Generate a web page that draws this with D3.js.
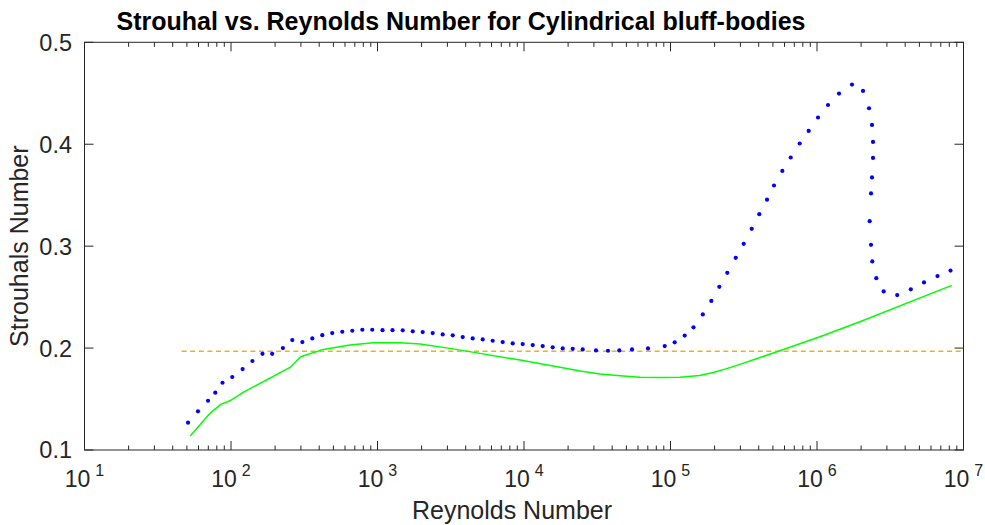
<!DOCTYPE html>
<html>
<head>
<meta charset="utf-8">
<script src="https://cdn.jsdelivr.net/npm/d3@7"></script>
<style>
  html, body { margin: 0; padding: 0; background: #fff; }
  svg { display: block; font-family: "Liberation Sans", Arial, Helvetica, sans-serif; }
</style>
</head>
<body>
<div id="chart"></div>
<script>
// Measured curve (blue dots) - Reynolds number and Strouhal number
const measuredRe = [
  50.9, 59.5, 69.7, 78.1, 87.5, 102, 120, 140, 164, 191,
  226, 262, 307, 359, 420, 491, 575, 673, 788, 921,
  1082, 1266, 1486, 1740, 2035, 2381, 2786, 3262, 3816, 4465,
  5225, 6113, 7154, 8373, 9797, 11470, 13415, 15700, 18375, 21500,
  25160, 31010, 37450, 44720, 54600, 70220, 91300, 106800, 125000, 143500,
  166200, 189900, 215400, 244200, 278700, 316000, 358400, 403800, 455700, 508800,
  579900, 661500, 761900, 877700, 1.016e6, 1.189e6, 1.413e6, 1.733e6, 2.061e6, 2.265e6,
  2.374e6, 2.412e6, 2.412e6, 2.374e6, 2.337e6, 2.289e6, 2.337e6, 2.385e6, 2.54e6, 2.853e6,
  3.528e6, 4.369e6, 5.375e6, 6.645e6, 8.153e6
];
const measuredSt = [
  0.1268, 0.1379, 0.1483, 0.1562, 0.1660, 0.1716, 0.1794, 0.1873, 0.1944, 0.1944,
  0.2000, 0.2078, 0.2059, 0.2095, 0.2127, 0.2147, 0.2160, 0.2170, 0.2180, 0.2180,
  0.2176, 0.2176, 0.2174, 0.2164, 0.2157, 0.2147, 0.2134, 0.2125, 0.2108, 0.2095,
  0.2085, 0.2072, 0.2059, 0.2046, 0.2039, 0.2029, 0.2020, 0.2007, 0.1997, 0.1993,
  0.1987, 0.1977, 0.1974, 0.1977, 0.1987, 0.1997, 0.2020, 0.2056, 0.2123, 0.2204,
  0.2330, 0.2463, 0.2601, 0.2738, 0.2885, 0.3023, 0.3170, 0.3314, 0.3456, 0.3595,
  0.3738, 0.3870, 0.4007, 0.4130, 0.4262, 0.4385, 0.4497, 0.4585, 0.4523, 0.4353,
  0.4189, 0.4023, 0.3866, 0.3674, 0.3517, 0.3245, 0.3013, 0.2850, 0.2686, 0.2556,
  0.2520, 0.2576, 0.2644, 0.2706, 0.2760
];

// Fitted curve (green line)
const fitRe = [
  52.7, 71.9, 85.1, 98.4, 121, 253, 299, 427, 649, 935,
  1426, 1950, 3126, 5012, 9397, 17620, 24100, 33040, 45190, 61940,
  84720, 116100, 157800, 195900, 238700, 297800, 408300, 558500, 1.047e6, 1.963e6,
  8.318e6
];
const fitSt = [
  0.1137, 0.1360, 0.1448, 0.1483, 0.1566, 0.1810, 0.1915, 0.1987, 0.2030, 0.2052,
  0.2052, 0.2039, 0.1997, 0.1948, 0.1882, 0.1811, 0.1775, 0.1745, 0.1728, 0.1713,
  0.1712, 0.1713, 0.1730, 0.1760, 0.1796, 0.1840, 0.1907, 0.1973, 0.2111, 0.2258,
  0.2615
];

// Constant reference Strouhal number (orange dashed)
const refRe = [46, 1e7];
const refSt = [0.197, 0.197];

// Axis ticks
const xDecades = [1, 2, 3, 4, 5, 6, 7];
const yTicks = [0.1, 0.2, 0.3, 0.4, 0.5];

const width = 985, height = 525;
const margin = { top: 42.3, right: 21.5, bottom: 75, left: 84.5 };
const innerW = width - margin.left - margin.right;
const innerH = height - margin.top - margin.bottom;
const axisColor = '#262626';

const svg = d3.select('#chart').append('svg')
  .attr('width', width)
  .attr('height', height);

const x = d3.scaleLog().domain([1e1, 1e7]).range([0, innerW]);
const y = d3.scaleLinear().domain([0.1, 0.5]).range([innerH, 0]);

const g = svg.append('g').attr('transform', `translate(${margin.left},${margin.top})`);

// Minor ticks: 2..9 in every decade
const minorTicks = [];
xDecades.slice(0, -1).forEach(p => {
  for (let k = 2; k <= 9; k++) minorTicks.push(k * Math.pow(10, p));
});
const majorTicks = xDecades.map(p => Math.pow(10, p));

// Ticks drawn inside the box, mirrored on top/right like MATLAB
const ticks = g.append('g').attr('stroke', axisColor).attr('stroke-width', 1);
minorTicks.forEach(v => {
  ticks.append('line').attr('x1', x(v)).attr('x2', x(v)).attr('y1', innerH).attr('y2', innerH - 4.5);
  ticks.append('line').attr('x1', x(v)).attr('x2', x(v)).attr('y1', 0).attr('y2', 4.5);
});
majorTicks.forEach(v => {
  ticks.append('line').attr('x1', x(v)).attr('x2', x(v)).attr('y1', innerH).attr('y2', innerH - 9);
  ticks.append('line').attr('x1', x(v)).attr('x2', x(v)).attr('y1', 0).attr('y2', 9);
});
yTicks.forEach(v => {
  ticks.append('line').attr('x1', 0).attr('x2', 9).attr('y1', y(v)).attr('y2', y(v));
  ticks.append('line').attr('x1', innerW).attr('x2', innerW - 9).attr('y1', y(v)).attr('y2', y(v));
});

// Box
g.append('rect')
  .attr('x', 0).attr('y', 0)
  .attr('width', innerW).attr('height', innerH)
  .attr('fill', 'none')
  .attr('stroke', axisColor)
  .attr('stroke-width', 1);

// Y tick labels
g.append('g').selectAll('text')
  .data(yTicks)
  .join('text')
  .attr('x', -12.5)
  .attr('y', d => y(d))
  .attr('dy', '0.36em')
  .attr('text-anchor', 'end')
  .attr('font-size', 23.5)
  .attr('fill', axisColor)
  .text(d => d.toFixed(1));

// X tick labels as 10^n
const xLabels = g.append('g').selectAll('text')
  .data(xDecades)
  .join('text')
  .attr('x', d => x(Math.pow(10, d)))
  .attr('y', innerH + 37.5)
  .attr('text-anchor', 'middle')
  .attr('font-size', 23)
  .attr('fill', axisColor);
xLabels.append('tspan').text('10');
xLabels.append('tspan')
  .attr('dx', 5)
  .attr('dy', -11)
  .attr('font-size', 16)
  .text(d => d);

// Lines
const line = d3.line().x(d => x(d[0])).y(d => y(d[1]));

g.append('path')
  .datum(d3.zip(refRe, refSt))
  .attr('d', line)
  .attr('fill', 'none')
  .attr('stroke', '#EDB120')
  .attr('stroke-width', 1.5)
  .attr('stroke-dasharray', '5,3.6');

g.append('path')
  .datum(d3.zip(fitRe, fitSt))
  .attr('d', line)
  .attr('fill', 'none')
  .attr('stroke', '#00ff00')
  .attr('stroke-width', 1.5)
  .attr('stroke-linejoin', 'round');

g.append('g').selectAll('circle')
  .data(d3.zip(measuredRe, measuredSt))
  .join('circle')
  .attr('cx', d => x(d[0]))
  .attr('cy', d => y(d[1]))
  .attr('r', 2.1)
  .attr('fill', '#0000ff');

// Axis titles
svg.append('text')
  .attr('x', 512)
  .attr('y', 519)
  .attr('text-anchor', 'middle')
  .attr('font-size', 25)
  .attr('fill', axisColor)
  .text('Reynolds Number');

svg.append('text')
  .attr('transform', `translate(28,${margin.top + innerH / 2}) rotate(-90)`)
  .attr('text-anchor', 'middle')
  .attr('font-size', 25)
  .attr('fill', axisColor)
  .text('Strouhals Number');

svg.append('text')
  .attr('x', 461)
  .attr('y', 29.5)
  .attr('text-anchor', 'middle')
  .attr('font-size', 25)
  .attr('font-weight', 'bold')
  .attr('fill', '#000')
  .text('Strouhal vs. Reynolds Number for Cylindrical bluff-bodies');
</script>
</body>
</html>
